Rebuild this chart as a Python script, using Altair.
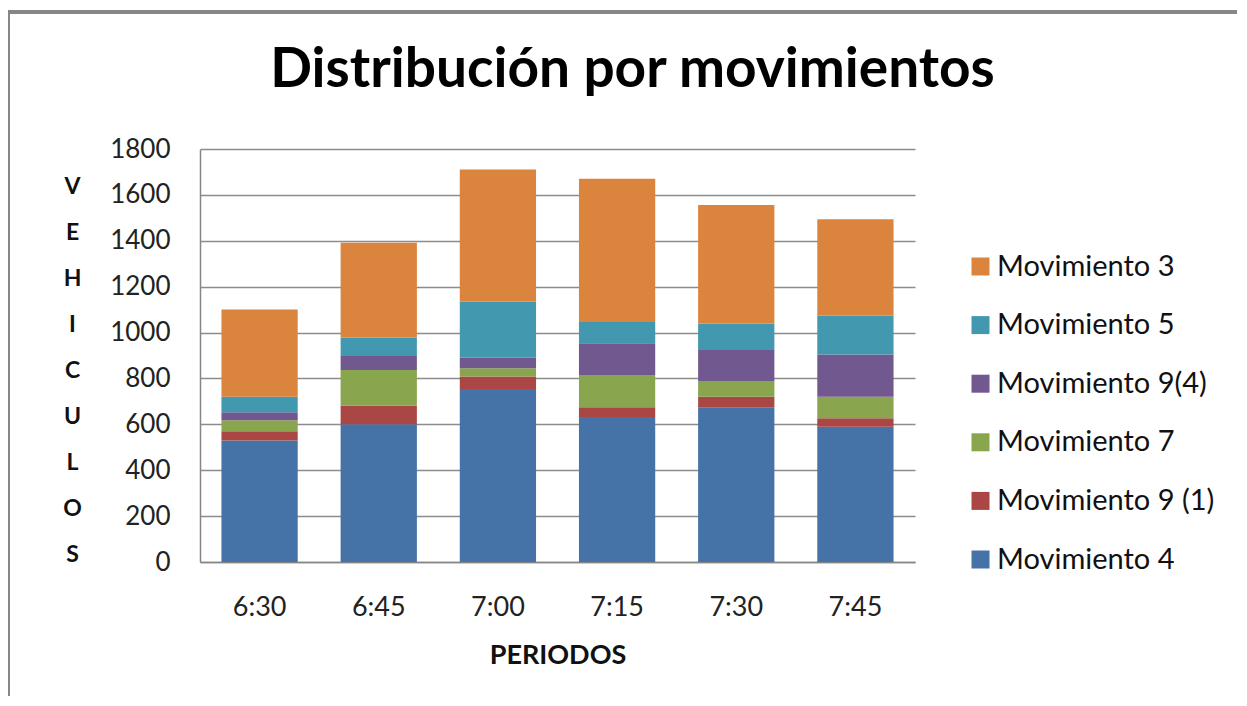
import altair as alt
import pandas as pd

periods = ["6:30", "6:45", "7:00", "7:15", "7:30", "7:45"]
# stacked from bottom to top
series = ["Movimiento 4", "Movimiento 9 (1)", "Movimiento 7", "Movimiento 9(4)", "Movimiento 5", "Movimiento 3"]
mov4 = [530, 600, 754, 632, 674, 589]
mov9_1 = [40, 81, 55, 42, 46, 37]
mov7 = [48, 156, 35, 141, 69, 94]
mov9_4 = [35, 61, 46, 138, 135, 184]
mov5 = [67, 80, 245, 93, 115, 170]
mov3 = [380, 413, 576, 624, 517, 420]
colors = ["#4572A7", "#AA4643", "#89A54E", "#71588F", "#4198AF", "#DB843D"]
y_ticks = list(range(0, 1801, 200))

values = [mov4, mov9_1, mov7, mov9_4, mov5, mov3]
rows = []
for rank, (name, vals) in enumerate(zip(series, values)):
    for p, v in zip(periods, vals):
        rows.append({"Periodo": p, "Serie": name, "Vehiculos": v, "rank": rank})
df = pd.DataFrame(rows)

legend_domain = list(reversed(series))
legend_colors = list(reversed(colors))

FONT = "Lato"

bars = alt.Chart(df).mark_bar().encode(
    x=alt.X("Periodo:N", sort=periods,
            scale=alt.Scale(paddingInner=0.36, paddingOuter=0.18),
            axis=alt.Axis(title="PERIODOS", labelAngle=0, labelFont=FONT, labelFontSize=27,
                          labelColor="#222222", labelPadding=32, labelBaseline="top",
                          ticks=False, tickSize=0, domainColor="#868686", domainWidth=1.5,
                          titleFont=FONT, titleFontSize=27, titleFontWeight="bold",
                          titleColor="#111111", titleY=101, titleBaseline="alphabetic")),
    y=alt.Y("Vehiculos:Q", stack="zero",
            scale=alt.Scale(domain=[0, 1800], nice=False),
            axis=alt.Axis(values=y_ticks, format="d",
                          title=["V", "E", "H", "I", "C", "U", "L", "O", "S"],
                          titleAngle=0, titleX=-128, titleY=44, titleAlign="center",
                          titleBaseline="alphabetic", titleLineHeight=46,
                          titleFont=FONT, titleFontSize=23, titleFontWeight="bold",
                          titleColor="#111111",
                          labelFont=FONT, labelFontSize=26, labelColor="#222222",
                          labelPadding=30, ticks=False, tickSize=0,
                          domainColor="#868686", domainWidth=1.5,
                          grid=True, gridColor="#8c8c8c", gridWidth=1.5)),
    color=alt.Color("Serie:N", scale=alt.Scale(domain=legend_domain, range=legend_colors),
                    legend=alt.Legend(title=None, orient="none", legendX=766, legendY=103,
                                      symbolType="square", symbolSize=324, symbolStrokeWidth=0,
                                      labelFont=FONT, labelFontSize=29, labelColor="#111111",
                                      labelOffset=2, rowPadding=28.6, padding=0,
                                      labelLimit=400)),
    order=alt.Order("rank:Q", sort="ascending"),
)

frame_left = alt.Chart(df).mark_rule(color="#868686", strokeWidth=2.5).encode(
    x=alt.value(-192), y=alt.value(-138), y2=alt.value(600))
frame_top = alt.Chart(df).mark_rule(color="#868686", strokeWidth=2.5).encode(
    x=alt.value(-193), x2=alt.value(1100), y=alt.value(-137))

chart = alt.layer(bars, frame_left, frame_top).properties(
    width=715, height=413,
    autosize=alt.AutoSizeParams(type="none"),
    padding={"left": 192, "top": 141, "right": 322, "bottom": 134},
    title=alt.TitleParams("Distribución por movimientos", font=FONT, fontSize=55,
                          fontWeight="bold", color="#000000", anchor="middle",
                          frame="group", dx=75, dy=132, baseline="alphabetic", offset=0),
).configure_view(stroke=None)

chart.save("out.html", embed_options={"renderer": "svg", "actions": False})
